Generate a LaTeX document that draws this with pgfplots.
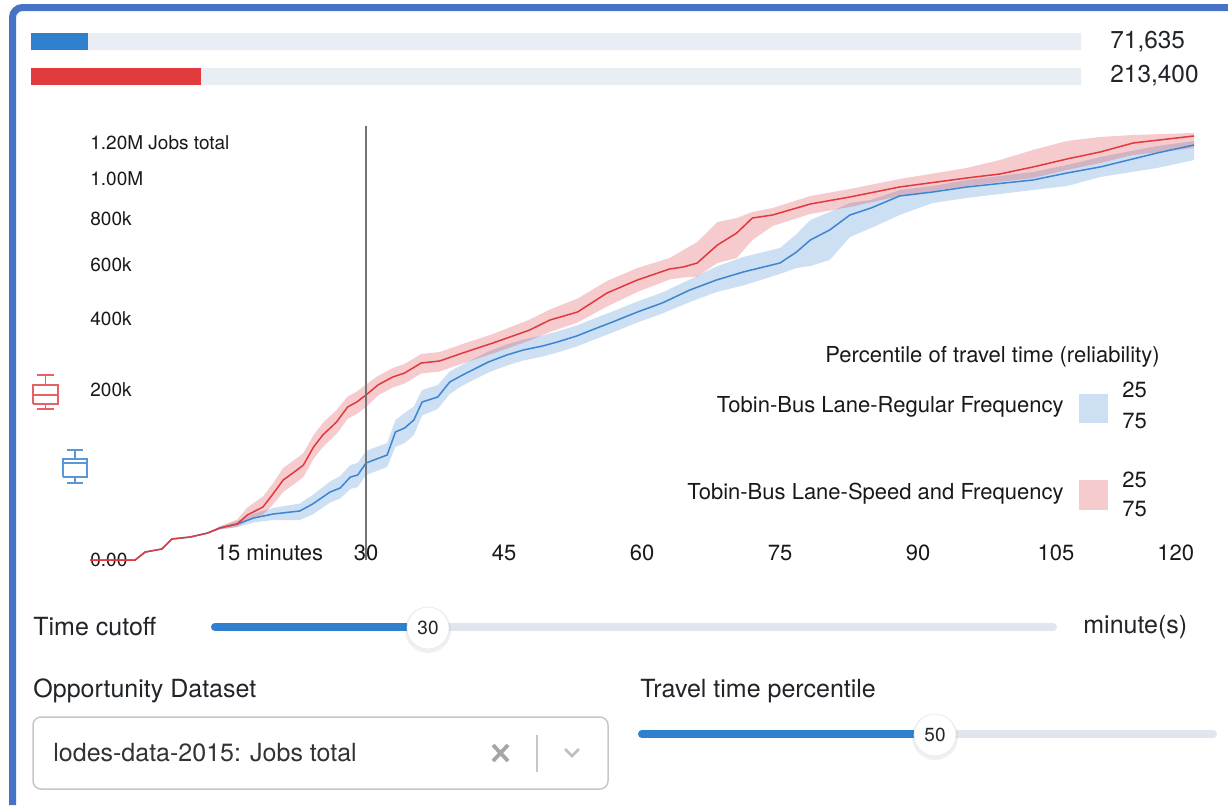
\documentclass[border=0pt]{standalone}
\usepackage{fontspec}
\setmainfont{TeX Gyre Heros}
\usepackage{pgfplots}
\pgfplotsset{compat=1.18}
\usepackage{pgfplotstable}
\usepgfplotslibrary{fillbetween}

\definecolor{frame}{HTML}{4673C6}
\definecolor{track}{HTML}{E9EEF4}
\definecolor{sltrack}{HTML}{E1E5EE}
\definecolor{ublue}{HTML}{2F80CD}
\definecolor{ured}{HTML}{E23B3D}
\definecolor{lblue}{HTML}{3D85D1}
\definecolor{lred}{HTML}{E0393E}
\definecolor{txt}{HTML}{212529}

% jobs reachable (thousands) by travel time (minutes): median, 25th and 75th percentile band
\pgfplotstableread{
t med lo hi
0 0 0 0
4.9 0 0 0
6 0.44 0.44 0.44
7.8 0.83 0.83 0.83
8.9 3.04 3.04 3.04
10.9 3.64 3.64 3.64
12.8 5.02 5.02 5.02
14.1 7.05 6.41 7.73
16 8.93 7.50 10.48
17.8 12.15 9.69 14.89
19.9 14.57 11.02 18.62
22.8 16.54 11.02 21.99
24.2 21.60 14.26 29.10
26.1 31.85 22.77 42.44
27.2 35.70 26.05 48.60
28.3 47.44 34.72 62.16
29.1 49.76 36.70 64.80
30 64.80 49.76 81.83
32.3 75.93 59.57 94.28
33.2 112.84 87.94 134.99
34.2 120.00 94.28 148.82
35.2 134.99 107.61 162.27
36.1 171.93 143.80 199.04
37.8 182.98 157.03 210.92
39.1 218.21 189.78 244.71
40.5 235.71 209.71 263.22
42 253.88 226.87 282.41
43.3 270.00 242.12 299.40
45.3 289.43 260.54 319.84
47.1 303.72 274.11 334.85
49.2 315.40 285.21 347.11
50.8 327.30 296.53 359.59
52.9 345.56 313.93 378.72
55.1 370.69 337.89 405.00
56.8 390.11 356.45 425.29
59.5 423.58 388.47 460.21
62.2 454.88 418.47 492.81
65.2 502.07 458.43 541.87
68.1 539.94 494.66 593.27
71 571.24 518.94 632.29
75 607.51 563.33 670.41
76.8 653.33 587.22 731.93
78.3 705.23 595.29 796.14
80.4 750.00 619.83 834.05
82.6 819.73 718.52 877.75
84.9 853.33 759.12 892.56
88 912.51 819.73 942.84
91.6 932.67 877.75 963.33
95.3 958.19 902.51 994.49
102.5 994.49 942.84 1036.80
106.2 1031.47 963.33 1074.55
109.8 1063.70 1010.25 1118.52
116 1140.83 1058.29 1180.41
120 1186.12 1101.93 1209.10
}\regular

\pgfplotstableread{
t med lo hi
0 0 0 0
4.9 0 0 0
6 0.44 0.44 0.44
7.8 0.83 0.83 0.83
8.9 3.04 3.04 3.04
10.9 3.64 3.64 3.64
12.8 5.02 5.02 5.02
14.1 7.05 6.41 7.73
16 8.93 7.50 11.30
17.1 13.95 10.48 18.98
18.8 19.35 14.26 27.77
19.8 29.10 20.46 39.26
21 44.08 31.85 58.29
22.5 55.79 41.90 71.65
23.2 62.16 47.44 78.85
24.3 87.94 70.25 107.61
25.3 107.61 87.94 129.26
26.8 131.16 109.34 154.96
28 161.22 136.92 184.11
29 171.93 146.80 195.54
30 187.50 161.22 212.12
31.3 210.92 186.37 233.17
32.9 230.64 204.93 253.88
34.2 240.83 214.55 264.57
36 267.28 239.55 292.26
38 272.73 244.71 297.96
40.5 295.10 265.92 321.32
43.8 324.30 293.68 351.76
47.8 364.33 331.82 398.35
50 396.69 358.02 432.16
53 423.58 388.47 470.95
56.2 490.97 442.58 536.10
59.5 539.94 494.66 587.22
63 583.20 541.87 628.13
64.5 591.25 549.63 661.85
66 607.51 553.53 696.45
68.2 683.37 607.51 786.80
70.3 736.42 628.13 805.54
72 805.54 705.23 834.05
74.2 819.73 768.29 853.33
78.3 872.84 824.49 912.51
82.6 907.50 858.19 947.94
88 958.19 912.51 999.73
95.3 1004.99 963.33 1058.29
98.9 1026.14 984.05 1101.93
102.5 1063.70 1004.99 1157.71
106.2 1107.44 1047.52 1209.10
109.8 1146.45 1085.46 1232.29
113.4 1197.58 1129.65 1243.97
120 1238.13 1169.04 1255.71
}\speed

\begin{document}
\begin{tikzpicture}
\fill[white] (0pt,0pt) rectangle (614pt,-402.5pt);

% top summary bars
\begin{axis}[
  at={(15.5pt,-47pt)}, anchor=south west,
  scale only axis, width=525pt, y=17.5pt,
  xmin=0, xmax=1315000, ymin=-0.5, ymax=1.5,
  xbar, bar width=8.5pt,
  hide axis,
]
\addplot[fill=track, draw=none, bar shift=0pt] coordinates {(1315000,0) (1315000,1)};
\addplot[fill=ublue, draw=none, bar shift=0pt] coordinates {(71635,1)};
\addplot[fill=ured, draw=none, bar shift=0pt] coordinates {(213400,0)};
\end{axis}

% main chart, square-root job axis (data in thousands, plotted as sqrt)
\begin{axis}[
  at={(45pt,-280pt)}, anchor=south west,
  scale only axis, width=552pt, height=217.25pt,
  xmin=0, xmax=120, ymin=0, ymax=36.0555,
  y filter/.expression={sqrt(y)},
  clip=false,
  axis line style={draw=none},
  major tick length=0pt,
  xtick={15,30,45,60,75,90,105,120},
  xticklabels={15\rlap{ minutes},30,45,60,75,90,105,\llap{120}},
  xticklabel style={anchor=center, yshift=3.5pt, font=\fontsize{11}{13}\selectfont, text=black!90},
  ytick={0,14.1421,20,24.4949,28.2843,31.6228,34.641},
  yticklabels={0.00,200k,400k,600k,800k,1.00M,1.20M Jobs total},
  yticklabel style={anchor=west, inner xsep=0pt, font=\fontsize{9.5}{11}\selectfont, text=black!90},
]
\addplot[name path=bhi, draw=none, forget plot] table[x=t,y=hi]{\regular};
\addplot[name path=blo, draw=none, forget plot] table[x=t,y=lo]{\regular};
\addplot[fill=lblue, fill opacity=0.26, draw=none] fill between[of=bhi and blo, on layer=main];
\addplot[name path=rhi, draw=none, forget plot] table[x=t,y=hi]{\speed};
\addplot[name path=rlo, draw=none, forget plot] table[x=t,y=lo]{\speed};
\addplot[fill=lred, fill opacity=0.26, draw=none] fill between[of=rhi and rlo, on layer=main];
\addplot[lblue, line width=0.75pt] table[x=t,y=med]{\regular};
\addplot[lred, line width=0.75pt] table[x=t,y=med]{\speed};
% time cutoff
\addplot[black!55, line width=0.8pt] coordinates {(30,0) (30,1300)};
% distributions at the cutoff (whiskers, quartile box, median)
\addplot[lred!80, line width=0.6pt] coordinates {(-6.2,167.6) (-3.48,167.6) (-3.48,210.9) (-6.2,210.9) (-6.2,167.6)};
\addplot[lred!80, line width=0.6pt] coordinates {(-6.2,187.5) (-3.48,187.5)};
\addplot[lred!80, line width=0.6pt] coordinates {(-4.84,210.9) (-4.84,235.7)};
\addplot[lred!80, line width=0.6pt] coordinates {(-5.76,235.7) (-3.91,235.7)};
\addplot[lred!80, line width=0.6pt] coordinates {(-4.84,167.6) (-4.84,157.0)};
\addplot[lred!80, line width=0.6pt] coordinates {(-5.76,157.0) (-3.91,157.0)};
\addplot[lblue!85, line width=0.6pt] coordinates {(-2.93,47.4) (-0.33,47.4) (-0.33,70.3) (-2.93,70.3) (-2.93,47.4)};
\addplot[lblue!85, line width=0.6pt] coordinates {(-2.93,64.8) (-0.33,64.8)};
\addplot[lblue!85, line width=0.6pt] coordinates {(-1.63,70.3) (-1.63,83.3)};
\addplot[lblue!85, line width=0.6pt] coordinates {(-2.5,83.3) (-0.76,83.3)};
\addplot[lblue!85, line width=0.6pt] coordinates {(-1.63,47.4) (-1.63,40.8)};
\addplot[lblue!85, line width=0.6pt] coordinates {(-2.5,40.8) (-0.76,40.8)};
\end{axis}

\begin{scope}[x=0.5pt, y=-0.5pt]
% frame
\draw[frame, line width=3.5pt, rounded corners=5pt] (12.5,805) -- (12.5,7.5) -- (1228,7.5);

% top values
\node[anchor=west, inner sep=0pt, text=txt, font=\fontsize{12.2}{14}\selectfont] at (1110,42) {71,635};
\node[anchor=west, inner sep=0pt, text=txt, font=\fontsize{12.2}{14}\selectfont] at (1110,76) {213,400};

% legend
\begin{scope}[font=\fontsize{11}{13}\selectfont, text=black!90]
\node[anchor=east, inner sep=0pt] at (1160,357) {Percentile of travel time (reliability)};
\node[anchor=east, inner sep=0pt] at (1064,407) {Tobin-Bus Lane-Regular Frequency};
\node[anchor=east, inner sep=0pt] at (1064,494) {Tobin-Bus Lane-Speed and Frequency};
\fill[lblue, opacity=0.26] (1079,394) rectangle (1108,423);
\fill[lred, opacity=0.26] (1079,480) rectangle (1108,510);
\node[anchor=west, inner sep=0pt] at (1122,390) {25};
\node[anchor=west, inner sep=0pt] at (1122,421) {75};
\node[anchor=west, inner sep=0pt] at (1122,480) {25};
\node[anchor=west, inner sep=0pt] at (1122,509) {75};
\end{scope}

% controls
\begin{scope}[font=\fontsize{12.5}{15}\selectfont, text=txt]
\node[anchor=west, inner sep=0pt] at (33,627) {Time cutoff};
\node[anchor=west, inner sep=0pt] at (1083,627) {minute(s)};
\node[anchor=west, inner sep=0pt] at (33,691) {Opportunity Dataset};
\node[anchor=west, inner sep=0pt] at (640,691) {Travel time percentile};
\end{scope}

% time slider
\draw[sltrack, line width=4pt, line cap=round] (215,627) -- (1053,627);
\draw[ublue, line width=4pt, line cap=round] (215,627) -- (428,627);
\fill[black, opacity=0.06] (428,630) circle (23);
\fill[white] (428,628) circle (21);
\draw[black!8, line width=0.4pt] (428,628) circle (21);
\node[inner sep=0pt, text=txt, font=\fontsize{9.5}{11}\selectfont] at (428,628) {30};

% percentile slider
\draw[sltrack, line width=4pt, line cap=round] (642,734) -- (1213,734);
\draw[ublue, line width=4pt, line cap=round] (642,734) -- (935,734);
\fill[black, opacity=0.06] (935,737) circle (23);
\fill[white] (935,735) circle (21);
\draw[black!8, line width=0.4pt] (935,735) circle (21);
\node[inner sep=0pt, text=txt, font=\fontsize{9.5}{11}\selectfont] at (935,735) {50};

% dropdown
\draw[black!22, line width=0.75pt, rounded corners=4pt] (33,717) rectangle (608,789);
\node[anchor=west, inner sep=0pt, text=black!80, font=\fontsize{12.5}{15}\selectfont] at (53,753) {lodes-data-2015: Jobs total};
\draw[black!35, line width=1.9pt] (493,745) -- (508,761) (508,745) -- (493,761);
\draw[black!22, line width=0.6pt] (537,735) -- (537,772);
\draw[black!25, line width=1.3pt] (565,749) -- (572,756) -- (579,749);
\end{scope}

\pgfresetboundingbox
\path[use as bounding box] (0pt,0pt) rectangle (614pt,-402.5pt);
\end{tikzpicture}
\end{document}
